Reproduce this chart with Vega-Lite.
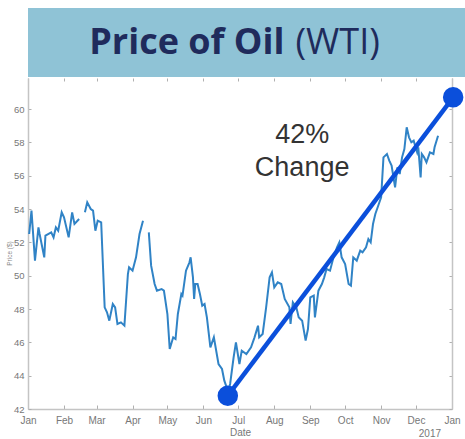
{
  "$schema": "https://vega.github.io/schema/vega-lite/v6.json",
  "padding": {"left": 6, "top": 8, "right": 0, "bottom": 0},
  "background": "white",
  "spacing": 0,
  "align": "none",
  "bounds": "full",
  "config": {"font": "Liberation Sans"},
  "datasets": {
    "oil": [
      {"date": "2017/01/02", "price": 52.5},
      {"date": "2017/01/04", "price": 53.9},
      {"date": "2017/01/07", "price": 50.9},
      {"date": "2017/01/10", "price": 52.9},
      {"date": "2017/01/11", "price": 52.5},
      {"date": "2017/01/15", "price": 51.1},
      {"date": "2017/01/16", "price": 52.4},
      {"date": "2017/01/21", "price": 52.6},
      {"date": "2017/01/23", "price": 52.3},
      {"date": "2017/01/25", "price": 52.9},
      {"date": "2017/01/27", "price": 52.7},
      {"date": "2017/01/30", "price": 53.8},
      {"date": "2017/02/01", "price": 53.5},
      {"date": "2017/02/05", "price": 52.3},
      {"date": "2017/02/08", "price": 53.8},
      {"date": "2017/02/10", "price": 53.1},
      {"date": "2017/02/14", "price": 53.4},
      {"date": "2017/02/16", "price": null},
      {"date": "2017/02/19", "price": 53.8},
      {"date": "2017/02/21", "price": 54.4},
      {"date": "2017/02/24", "price": 54.0},
      {"date": "2017/02/26", "price": 53.9},
      {"date": "2017/02/28", "price": 52.7},
      {"date": "2017/03/02", "price": 53.3},
      {"date": "2017/03/05", "price": 53.2},
      {"date": "2017/03/08", "price": 48.1},
      {"date": "2017/03/10", "price": 47.8},
      {"date": "2017/03/12", "price": 47.3},
      {"date": "2017/03/15", "price": 48.3},
      {"date": "2017/03/17", "price": 48.1},
      {"date": "2017/03/19", "price": 47.1},
      {"date": "2017/03/22", "price": 47.2},
      {"date": "2017/03/25", "price": 47.0},
      {"date": "2017/03/28", "price": 50.1},
      {"date": "2017/03/29", "price": 50.5},
      {"date": "2017/04/01", "price": 50.3},
      {"date": "2017/04/04", "price": 51.1},
      {"date": "2017/04/07", "price": 52.5},
      {"date": "2017/04/10", "price": 53.3},
      {"date": "2017/04/12", "price": null},
      {"date": "2017/04/15", "price": 52.6},
      {"date": "2017/04/17", "price": 50.6},
      {"date": "2017/04/20", "price": 49.5},
      {"date": "2017/04/22", "price": 49.1},
      {"date": "2017/04/26", "price": 49.2},
      {"date": "2017/04/28", "price": 49.1},
      {"date": "2017/05/01", "price": 47.7},
      {"date": "2017/05/03", "price": 45.6},
      {"date": "2017/05/06", "price": 46.3},
      {"date": "2017/05/08", "price": 46.2},
      {"date": "2017/05/10", "price": 47.7},
      {"date": "2017/05/13", "price": 48.9},
      {"date": "2017/05/14", "price": 48.8},
      {"date": "2017/05/17", "price": 50.3},
      {"date": "2017/05/20", "price": 50.8},
      {"date": "2017/05/21", "price": 51.1},
      {"date": "2017/05/23", "price": 49.9},
      {"date": "2017/05/24", "price": 48.6},
      {"date": "2017/05/25", "price": 49.5},
      {"date": "2017/05/27", "price": 49.5},
      {"date": "2017/05/29", "price": 48.9},
      {"date": "2017/05/31", "price": 48.2},
      {"date": "2017/06/02", "price": 48.3},
      {"date": "2017/06/04", "price": 47.5},
      {"date": "2017/06/07", "price": 45.7},
      {"date": "2017/06/10", "price": 46.3},
      {"date": "2017/06/14", "price": 44.7},
      {"date": "2017/06/17", "price": 44.4},
      {"date": "2017/06/19", "price": 43.7},
      {"date": "2017/06/21", "price": 43.3},
      {"date": "2017/06/22", "price": 43.0},
      {"date": "2017/06/24", "price": 43.5},
      {"date": "2017/06/27", "price": 45.1},
      {"date": "2017/06/29", "price": 46.0},
      {"date": "2017/07/02", "price": 44.7},
      {"date": "2017/07/04", "price": 45.5},
      {"date": "2017/07/08", "price": 45.3},
      {"date": "2017/07/12", "price": 45.7},
      {"date": "2017/07/15", "price": 46.3},
      {"date": "2017/07/18", "price": 47.0},
      {"date": "2017/07/19", "price": 46.3},
      {"date": "2017/07/22", "price": 46.5},
      {"date": "2017/07/25", "price": 48.1},
      {"date": "2017/07/28", "price": 49.9},
      {"date": "2017/07/30", "price": 50.2},
      {"date": "2017/08/01", "price": 49.3},
      {"date": "2017/08/04", "price": 49.6},
      {"date": "2017/08/07", "price": 49.5},
      {"date": "2017/08/10", "price": 48.6},
      {"date": "2017/08/14", "price": 48.1},
      {"date": "2017/08/15", "price": 47.1},
      {"date": "2017/08/17", "price": 48.4},
      {"date": "2017/08/20", "price": 48.1},
      {"date": "2017/08/22", "price": 47.5},
      {"date": "2017/08/25", "price": 47.3},
      {"date": "2017/08/28", "price": 46.1},
      {"date": "2017/08/30", "price": 46.8},
      {"date": "2017/09/01", "price": 48.7},
      {"date": "2017/09/04", "price": 48.8},
      {"date": "2017/09/05", "price": 47.5},
      {"date": "2017/09/08", "price": 49.1},
      {"date": "2017/09/11", "price": 49.5},
      {"date": "2017/09/13", "price": 49.9},
      {"date": "2017/09/15", "price": 50.4},
      {"date": "2017/09/18", "price": 50.3},
      {"date": "2017/09/21", "price": 51.1},
      {"date": "2017/09/24", "price": 51.7},
      {"date": "2017/09/26", "price": 52.0},
      {"date": "2017/09/28", "price": 51.1},
      {"date": "2017/10/01", "price": 50.7},
      {"date": "2017/10/04", "price": 49.5},
      {"date": "2017/10/06", "price": 49.4},
      {"date": "2017/10/08", "price": 51.1},
      {"date": "2017/10/11", "price": 50.9},
      {"date": "2017/10/14", "price": 51.5},
      {"date": "2017/10/16", "price": 51.4},
      {"date": "2017/10/19", "price": 51.7},
      {"date": "2017/10/21", "price": 52.2},
      {"date": "2017/10/23", "price": 52.0},
      {"date": "2017/10/25", "price": 53.1},
      {"date": "2017/10/27", "price": 53.7},
      {"date": "2017/10/30", "price": 54.3},
      {"date": "2017/11/01", "price": 54.7},
      {"date": "2017/11/03", "price": 57.1},
      {"date": "2017/11/06", "price": 57.3},
      {"date": "2017/11/08", "price": 56.9},
      {"date": "2017/11/10", "price": 56.6},
      {"date": "2017/11/13", "price": 55.3},
      {"date": "2017/11/15", "price": 56.5},
      {"date": "2017/11/17", "price": 56.1},
      {"date": "2017/11/19", "price": 57.1},
      {"date": "2017/11/21", "price": 57.6},
      {"date": "2017/11/23", "price": 58.9},
      {"date": "2017/11/25", "price": 58.3},
      {"date": "2017/11/27", "price": 58.0},
      {"date": "2017/11/29", "price": 58.1},
      {"date": "2017/12/02", "price": 57.4},
      {"date": "2017/12/03", "price": 57.7},
      {"date": "2017/12/05", "price": 55.9},
      {"date": "2017/12/06", "price": 57.3},
      {"date": "2017/12/08", "price": 57.1},
      {"date": "2017/12/10", "price": 56.8},
      {"date": "2017/12/13", "price": 57.4},
      {"date": "2017/12/16", "price": 57.3},
      {"date": "2017/12/17", "price": 57.7},
      {"date": "2017/12/20", "price": 58.4}
    ],
    "trend": [
      {"date": "2017/06/22", "price": 42.8},
      {"date": "2018/01/02", "price": 60.7}
    ],
    "note": [{"t": "42%\nChange"}],
    "year": [{"t": "2017"}],
    "banner": [{"a": "Price of Oil", "b": "(WTI)"}]
  },
  "vconcat": [
    {
      "width": 459,
      "height": 69,
      "view": {"fill": "#8fc3d6", "stroke": null},
      "data": {"name": "banner"},
      "layer": [
        {
          "mark": {"type": "text", "font": "Open Sans", "fontWeight": "bold", "fontSize": 36, "color": "#1f2b5c", "align": "right", "baseline": "alphabetic", "dx": 27, "dy": 11},
          "encoding": {"text": {"field": "a"}}
        },
        {
          "mark": {"type": "text", "font": "Open Sans", "fontSize": 36, "color": "#1f2b5c", "align": "left", "baseline": "alphabetic", "dx": 38, "dy": 11},
          "encoding": {"text": {"field": "b"}}
        }
      ]
    },
    {
      "width": 424,
      "height": 331,
      "view": {"stroke": null},
      "resolve": {"axis": {"x": "independent", "y": "independent"}},
      "layer": [
        {
          "data": {"name": "oil"},
          "mark": {"type": "line", "color": "#3083c6", "strokeWidth": 2, "invalid": "break-paths-show-domains"},
          "encoding": {
            "x": {
              "field": "date", "type": "temporal",
              "scale": {"domain": [{"year": 2017, "month": 1, "date": 1}, {"year": 2018, "month": 1, "date": 1}]},
              "axis": {"orient": "bottom", "format": "%b", "tickCount": {"interval": "month", "step": 1}, "labelFlush": false, "labelOverlap": false, "grid": false,
                "tickSize": -4, "tickColor": "#b0b0b0", "domainColor": "#c4c4c4", "domainWidth": 1.5,
                "labelFontSize": 10, "labelColor": "#777777", "labelPadding": 10,
                "title": "Date", "titleFontSize": 10, "titleFontWeight": "normal", "titleColor": "#777777", "titlePadding": 2}
            },
            "y": {
              "field": "price", "type": "quantitative",
              "scale": {"domain": [42, 61.86], "nice": false, "zero": false},
              "axis": {"orient": "left", "values": [42, 44, 46, 48, 50, 52, 54, 56, 58, 60], "grid": false,
                "tickSize": -3, "tickColor": "#b0b0b0", "domainColor": "#c4c4c4", "domainWidth": 1.5,
                "labelFontSize": 9.5, "labelColor": "#777777", "labelPadding": 7,
                "title": "Price ($)", "titleFontSize": 6.5, "titleFontWeight": "normal", "titleColor": "#888888", "titlePadding": 1, "titleY": 175}
            }
          }
        },
        {
          "data": {"name": "trend"},
          "mark": {"type": "line", "color": "#0b4fdb", "strokeWidth": 4.5},
          "encoding": {
            "x": {
              "field": "date", "type": "temporal",
              "scale": {"domain": [{"year": 2017, "month": 1, "date": 1}, {"year": 2018, "month": 1, "date": 1}]},
              "axis": {"orient": "top", "labels": false, "domain": false, "grid": false, "tickCount": {"interval": "month", "step": 1}, "tickSize": -3, "tickColor": "#b0b0b0", "title": null}
            },
            "y": {
              "field": "price", "type": "quantitative",
              "scale": {"domain": [42, 61.86], "nice": false, "zero": false},
              "axis": {"orient": "right", "labels": false, "grid": false, "values": [42, 44, 46, 48, 50, 52, 54, 56, 58, 60], "tickSize": -3, "tickColor": "#b0b0b0", "domainColor": "#c4c4c4", "domainWidth": 1.5, "title": null}
            }
          }
        },
        {
          "data": {"name": "trend"},
          "mark": {"type": "circle", "color": "#0b4fdb", "opacity": 1, "size": 420},
          "encoding": {
            "x": {"field": "date", "type": "temporal", "axis": null},
            "y": {"field": "price", "type": "quantitative", "axis": null}
          }
        },
        {
          "data": {"name": "note"},
          "mark": {"type": "text", "fontSize": 27, "color": "#333333", "lineBreak": "\n", "lineHeight": 33, "align": "center", "baseline": "alphabetic"},
          "encoding": {
            "x": {"datum": {"year": 2017, "month": 8, "date": 25}, "type": "temporal", "axis": null},
            "y": {"datum": 57.96, "type": "quantitative", "axis": null},
            "text": {"field": "t"}
          }
        },
        {
          "data": {"name": "year"},
          "mark": {"type": "text", "fontSize": 10, "color": "#777777", "align": "center", "baseline": "middle", "dy": 25},
          "encoding": {
            "x": {"datum": {"year": 2017, "month": 12, "date": 13}, "type": "temporal", "axis": null},
            "y": {"datum": 42, "type": "quantitative", "axis": null},
            "text": {"field": "t"}
          }
        }
      ]
    }
  ]
}
